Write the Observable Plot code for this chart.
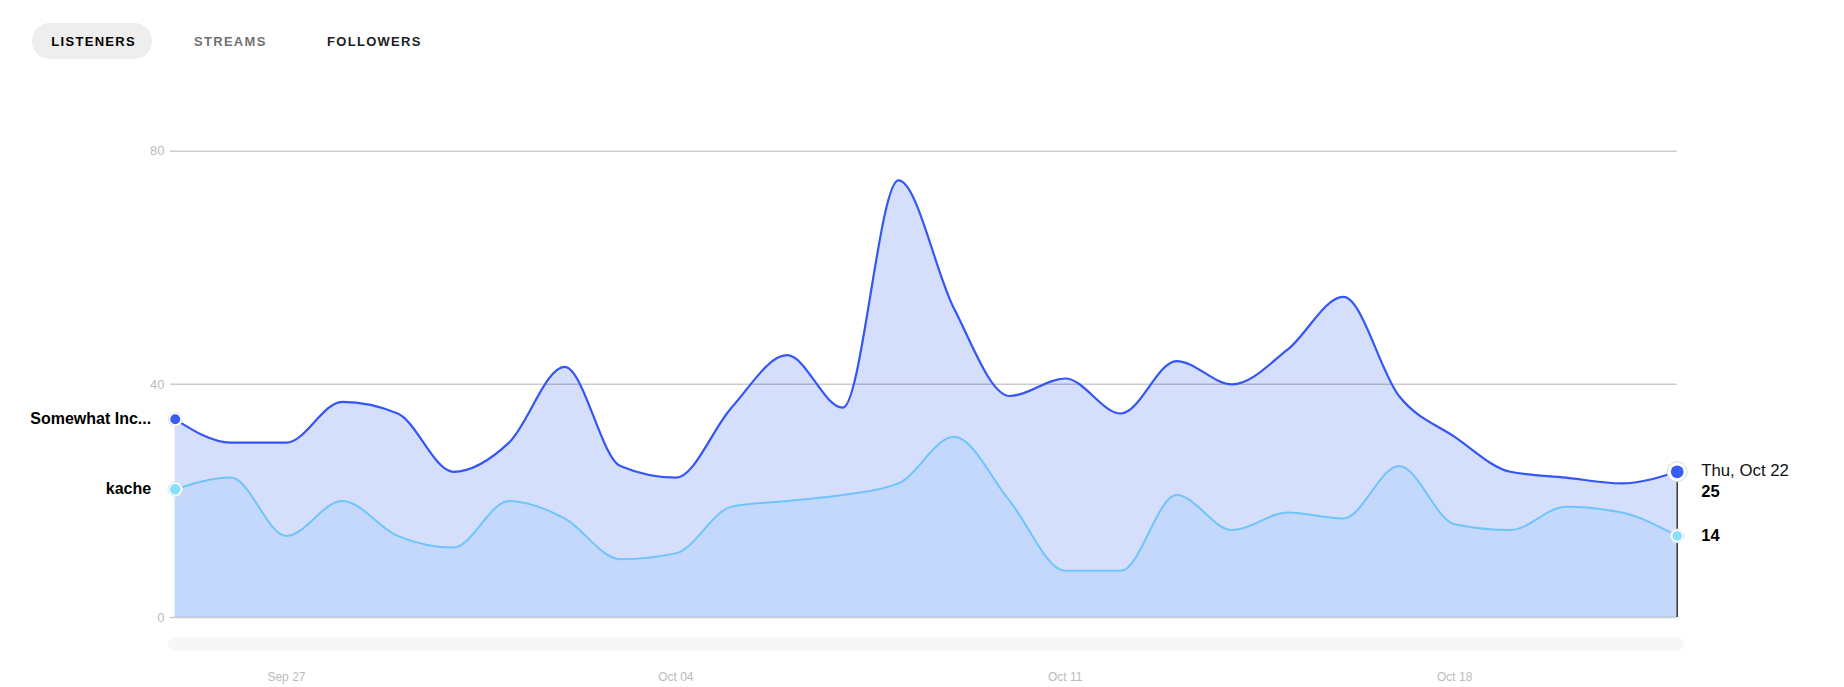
<!DOCTYPE html>
<html>
<head>
<meta charset="utf-8">
<script src="https://cdn.jsdelivr.net/npm/d3@7"></script>
<script src="https://cdn.jsdelivr.net/npm/@observablehq/plot@0.6"></script>
<style>
  html, body { margin: 0; padding: 0; background: #fff; }
  #wrap { position: relative; width: 1844px; height: 687px; overflow: hidden; font-family: "Liberation Sans", Arial, sans-serif; }
  #tabs { position: relative; height: 80px; }
  .tab { position: absolute; top: 24px; height: 36px; line-height: 36px; font-size: 13px; font-weight: 700; letter-spacing: 1.3px; white-space: nowrap; }
  .pill { position: absolute; left: 32px; top: 23px; width: 120px; height: 36px; border-radius: 18px; background: #eeeeee; }
  #scroller { position: absolute; left: 168px; top: 637px; width: 1516px; height: 14px; border-radius: 7px; background: #f7f7f7; }
  #chart svg { display: block; }
</style>
</head>
<body>
<div id="wrap">
  <div id="tabs">
    <div class="pill"></div>
  </div>
  <div id="chart"></div>
  <div id="scroller"></div>
</div>
<script>
// ---- data ----
const tabs = ["LISTENERS", "STREAMS", "FOLLOWERS"];
const seriesNames = ["Somewhat Inc...", "kache"];
const dates = [
  "2020-09-25","2020-09-26","2020-09-27","2020-09-28","2020-09-29","2020-09-30","2020-10-01",
  "2020-10-02","2020-10-03","2020-10-04","2020-10-05","2020-10-06","2020-10-07","2020-10-08",
  "2020-10-09","2020-10-10","2020-10-11","2020-10-12","2020-10-13","2020-10-14","2020-10-15",
  "2020-10-16","2020-10-17","2020-10-18","2020-10-19","2020-10-20","2020-10-21","2020-10-22"
];
const somewhatInc = [34,30,30,37,35,25,30,43,26,24,36,45,36,75,53,38,41,35,44,40,46,55,38,31,25,24,23,25];
const kache       = [22,24,14,20,14,12,20,17,10,11,19,20,21,23,31,20,8,8,21,15,18,17,26,16,15,19,18,14];
const yTicks = [0, 40, 80];
const xTicks = ["2020-09-27","2020-10-04","2020-10-11","2020-10-18"];

// ---- tabs ----
const tabStyle = [
  {left: 51.3, color: "#000000"},
  {left: 194, color: "#727272"},
  {left: 327, color: "#222222"}
];
const tabsDiv = document.getElementById("tabs");
tabs.forEach((t, i) => {
  const s = document.createElement("div");
  s.className = "tab";
  s.textContent = t;
  s.style.left = tabStyle[i].left + "px";
  s.style.color = tabStyle[i].color;
  tabsDiv.appendChild(s);
});

// ---- table ----
const parse = d3.utcParse("%Y-%m-%d");
const rows = dates.map((d, i) => ({date: parse(d), a: somewhatInc[i], b: kache[i]}));
const first = [rows[0]];
const last = [rows[rows.length - 1]];
const fmtDay = d3.utcFormat("%a, %b %d");

const darkLine = "#3356f5";
const lightLine = "#6fc5fb";
const darkDot = "#3a5cf6";
const lightDot = "#88e0fd";

const plot = Plot.plot({
  width: 1844,
  height: 607,
  marginTop: 70.7,
  marginBottom: 70,
  marginLeft: 174.7,
  marginRight: 167.3,
  style: {fontFamily: "Liberation Sans, Arial, sans-serif", background: "transparent", overflow: "visible"},
  x: {type: "utc", domain: [rows[0].date, rows[rows.length - 1].date]},
  y: {domain: [0, 80]},
  marks: [
    Plot.areaY(rows, {x: "date", y: "a", fill: "#d5defa", curve: "monotone-x"}),
    Plot.areaY(rows, {x: "date", y: "b", fill: "#c4d8fc", curve: "monotone-x"}),
    Plot.ruleY(yTicks, {stroke: "#000", strokeOpacity: 0.2, strokeWidth: 1.5, insetLeft: -4.7}),
    Plot.lineY(rows, {x: "date", y: "b", stroke: lightLine, strokeWidth: 2, curve: "monotone-x"}),
    Plot.lineY(rows, {x: "date", y: "a", stroke: darkLine, strokeWidth: 2.2, curve: "monotone-x"}),
    Plot.ruleX(last, {x: "date", y1: 0, y2: "a", stroke: "#333", strokeWidth: 1.5}),
    Plot.axisY({ticks: yTicks, tickSize: 0, tickPadding: 10.7, fontSize: 13, color: "#bbbbbb", label: null}),
    Plot.axisX({ticks: xTicks.map(parse), tickFormat: "%b %d", tickSize: 0, tickPadding: 54.5, fontSize: 12, color: "#bbbbbb", label: null}),
    // start dots
    Plot.dot(first, {x: "date", y: "a", r: 7, fill: "white", stroke: "#e4e4e4", strokeWidth: 1}),
    Plot.dot(first, {x: "date", y: "a", r: 5, fill: darkDot}),
    Plot.dot(first, {x: "date", y: "b", r: 7.2, fill: "white", stroke: "#e4e4e4", strokeWidth: 1}),
    Plot.dot(first, {x: "date", y: "b", r: 5.4, fill: lightDot}),
    // end dots
    Plot.dot(last, {x: "date", y: "a", r: 10, fill: "white", stroke: "#d8d8d8", strokeWidth: 1}),
    Plot.dot(last, {x: "date", y: "a", r: 6.4, fill: darkDot}),
    Plot.dot(last, {x: "date", y: "b", r: 6.8, fill: "white", stroke: "#e4e4e4", strokeWidth: 1}),
    Plot.dot(last, {x: "date", y: "b", r: 4.8, fill: lightDot}),
    // series labels (left)
    Plot.text(first, {x: "date", y: "a", text: () => seriesNames[0], dx: -24, textAnchor: "end", fontSize: 16, fontWeight: "bold", fill: "#000", ariaLabel: "series-label"}),
    Plot.text(first, {x: "date", y: "b", text: () => seriesNames[1], dx: -24, textAnchor: "end", fontSize: 16, fontWeight: "bold", fill: "#000", ariaLabel: "series-label"}),
    // end labels (right)
    Plot.text(last, {x: "date", y: "a", text: d => fmtDay(d.date), dx: 24, dy: -1, textAnchor: "start", fontSize: 16.8, fill: "#111"}),
    Plot.text(last, {x: "date", y: "a", text: d => String(d.a), dx: 24, dy: 20, textAnchor: "start", fontSize: 16.5, fontWeight: "bold", fill: "#000"}),
    Plot.text(last, {x: "date", y: "b", text: d => String(d.b), dx: 24, dy: 0, textAnchor: "start", fontSize: 16.5, fontWeight: "bold", fill: "#000"})
  ]
});

document.getElementById("chart").appendChild(plot);

// clip the left series labels at the container edge
const svg = d3.select(plot);
svg.append("defs").append("clipPath").attr("id", "label-clip")
  .append("rect").attr("x", 31.7).attr("y", 0).attr("width", 150).attr("height", 607);
svg.selectAll('g[aria-label="series-label"]').attr("clip-path", "url(#label-clip)");
</script>
</body>
</html>
